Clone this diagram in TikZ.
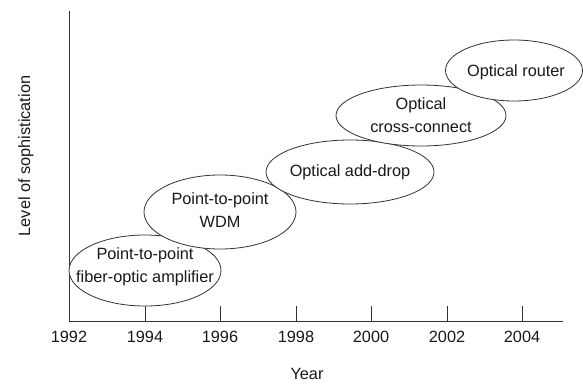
\documentclass[tikz,border=0pt]{standalone}
\usepackage{fontspec}
\setmainfont{Liberation Sans}
\begin{document}
\begin{tikzpicture}[x=1pt,y=-1pt,
  lbl/.style={font=\fontsize{16.3}{22.5}\selectfont, text=black!90, inner sep=1pt},
  axisline/.style={draw=black!80, line width=0.8pt}]
\useasboundingbox (0,0) rectangle (583,383);
% axes
\coordinate (top) at (69,11);
\coordinate (orig) at (69,321);
\coordinate (xend) at (563,321);
\draw[axisline] (top) -- (orig) -- (xend);
\foreach \x/\yr in {69/1992,145/1994,220/1996,296/1998,371/2000,447/2002,522/2004}{
  \coordinate (t\yr) at (\x,321);
  \draw[axisline] (t\yr) -- ++(0,-15);
  \node[lbl] (l\yr) at (\x,337) {\yr};
}
\node[lbl] (xlab) at (307,374) {Year};
\node[lbl, rotate=90] (ylab) at (26,156) {Level of sophistication};
% bubbles
\draw[axisline, fill=white] (145,270.5) ellipse [x radius=76, y radius=35.5];
\node[lbl, align=center] (amp) at (145,267) {Point-to-point\\fiber-optic amplifier};
\draw[axisline, fill=white] (220,212) ellipse [x radius=76, y radius=37];
\node[lbl, align=center] (wdm) at (220,210) {Point-to-point\\WDM};
\draw[axisline, fill=white] (350,172) ellipse [x radius=84, y radius=32];
\node[lbl] (add) at (350,172) {Optical add-drop};
\draw[axisline, fill=white] (421,115.5) ellipse [x radius=85, y radius=30.5];
\node[lbl, align=center] (oxc) at (421,115) {Optical\\cross-connect};
\draw[axisline, fill=white] (514,70.5) ellipse [x radius=68.5, y radius=30.5];
\node[lbl] (rtr) at (516,72) {Optical router};
\end{tikzpicture}
\end{document}
